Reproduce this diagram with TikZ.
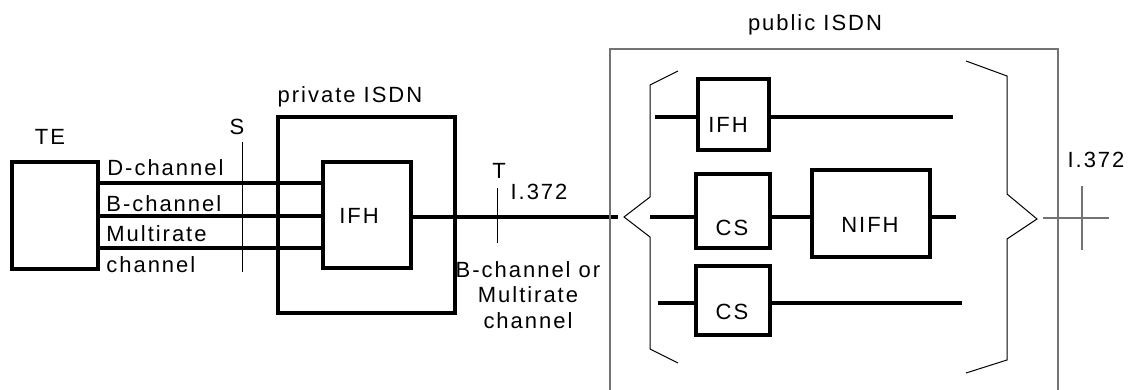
\documentclass[tikz,border=0pt]{standalone}
\usepackage{fontspec}
\setmainfont{Liberation Sans}[LetterSpace=9]
\begin{document}
\begin{tikzpicture}[x=0.5pt, y=-0.5pt,
    box/.style={draw, line width=1.6pt, inner sep=0pt},
    txt/.style={inner sep=0pt, anchor=base, font=\fontsize{11}{12.75}\selectfont},
    wire/.style={line width=1.6pt},
    fine/.style={line width=0.5pt},
    grey/.style={line width=0.6pt, draw=black!55}]
  \useasboundingbox (0,0) rectangle (1130,390);

  % terminal and private network
  \node[box, minimum width=43pt, minimum height=53.5pt] (te) at (55,215.5) {};
  \node[txt] (telbl) at (50,145) {TE};
  \node[box, minimum width=88.5pt, minimum height=98pt] (priv) at (366.5,215) {};
  \node[txt] (privlbl) at (350,103) {private ISDN};
  \node[box, minimum width=44pt, minimum height=53pt] (ifh) at (367,215) {};
  \node[txt] (ifhlbl) at (359,223) {IFH};

  \foreach \y in {183,216,248}
    \draw[wire] (te.east |- 0,\y) -- (ifh.west |- 0,\y);
  \node[txt, anchor=base west] (dlbl) at (107,176) {D-channel};
  \node[txt, anchor=base west] (blbl) at (106,212) {B-channel};
  \node[txt, anchor=base west] (mlbl) at (106,242) {Multirate};
  \node[txt, anchor=base west] (clbl) at (106,272) {channel};

  % reference point S
  \coordinate (stop) at (242,142);
  \coordinate (sbot) at (242,272);
  \draw[fine] (stop) -- (sbot);
  \node[txt] (slbl) at (237,134) {S};

  % reference point T
  \coordinate (tend) at (618,217);
  \draw[wire] (ifh.east |- tend) -- (tend);
  \coordinate (ttop) at (497,188);
  \coordinate (tbot) at (497,243);
  \draw[fine] (ttop) -- (tbot);
  \node[txt] (tlbl) at (499,178) {T};
  \node[txt] (tref) at (539,199) {I.372};
  \node[txt, anchor=north, align=center] (tchan) at (528,261)
    {B-channel or\\Multirate\\channel};

  % public network
  \draw[grey] (610,390) -- (610,49) -- (1058,49) -- (1058,390);
  \node[txt] (publbl) at (815,31) {public ISDN};
  \draw[fine] (678,71) -- (650,85) -- (650,197) -- (624,217)
    -- (650,237) -- (650,349) -- (678,363);
  \draw[fine] (966,61) -- (1007,76) -- (1007,194) -- (1037,219)
    -- (1007,239) -- (1007,360) -- (966,373);

  \node[box, minimum width=35.5pt, minimum height=35.5pt] (ifha) at (733.5,114.5) {};
  \node[txt] (ifhalbl) at (728,133) {IFH};
  \node[box, minimum width=37pt, minimum height=37pt] (csa) at (733,211) {};
  \node[txt] (csalbl) at (732,235) {CS};
  \node[box, minimum width=59pt, minimum height=43.5pt] (nifh) at (871,213.5) {};
  \node[txt] (nifhlbl) at (870,232) {NIFH};
  \node[box, minimum width=37pt, minimum height=34.5pt] (csb) at (733,300.5) {};
  \node[txt] (csblbl) at (732,319) {CS};

  \coordinate (r1a) at (655,117);
  \coordinate (r1b) at (953,117);
  \coordinate (r2a) at (650,217);
  \coordinate (r2b) at (956,217);
  \coordinate (r3a) at (658,303);
  \coordinate (r3b) at (962,303);
  \draw[wire] (r1a) -- (r1a -| ifha.west);
  \draw[wire] (r1b -| ifha.east) -- (r1b);
  \draw[wire] (r2a) -- (r2a -| csa.west);
  \draw[wire] (r2a -| csa.east) -- (r2a -| nifh.west);
  \draw[wire] (r2b -| nifh.east) -- (r2b);
  \draw[wire] (r3a) -- (r3a -| csb.west);
  \draw[wire] (r3b -| csb.east) -- (r3b);

  % reference point at the public side
  \coordinate (xl) at (1043,218);
  \coordinate (xr) at (1109,218);
  \coordinate (xt) at (1082,186);
  \coordinate (xb) at (1082,250);
  \draw[grey] (xl) -- (xr);
  \draw[grey] (xt) -- (xb);
  \node[txt] (xref) at (1096,168) {I.372};
\end{tikzpicture}
\end{document}
